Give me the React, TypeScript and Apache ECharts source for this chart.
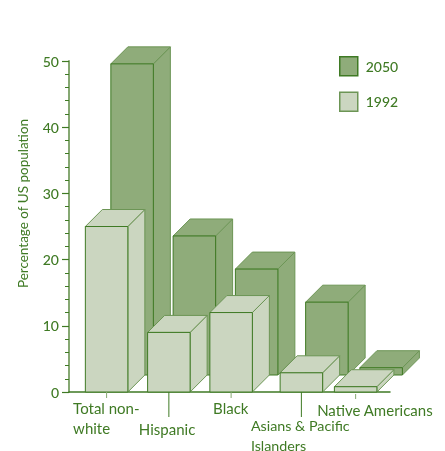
import React, { useEffect, useRef } from "react";
import * as echarts from "echarts";

const categories = ["Total non-\nwhite", "Hispanic", "Black", "Asians & Pacific\nIslanders", "Native Americans"];
const values2050 = [47, 21, 16, 11, 1.1];
const values1992 = [25, 9, 12, 2.9, 0.8];
const yTicks = { min: 0, max: 50, interval: 10 };

const FONT = "Lato";
const TEXT = "#3f7a24";
const AXIS_LIGHT = "#86a873";
const DARK = "#8fac7a";
const LIGHT = "#cbd6c0";
const EDGE = "#3f7a24";
const SOFT = "#6c9555";

const BAR_W = 42.5;
const DEPTH = 17;
const HALF = 21.25;
const SLOT_NUDGE = [0, 0, 0, 8, 0];
const TICK = [
  { from: 0, to: 6, c: AXIS_LIGHT },
  { from: 0, to: 25, c: TEXT },
  { from: 0, to: 6, c: AXIS_LIGHT },
  { from: 0, to: 25, c: TEXT },
  { from: 2, to: 7, c: AXIS_LIGHT },
];
const LABEL_POS = [
  { x: -33.5, y: 6, size: 15 },
  { x: -30, y: 27, size: 15 },
  { x: -18, y: 6, size: 15 },
  { x: -50.5, y: 23.5, size: 14.3 },
  { x: -38.5, y: 8, size: 15 },
];

const boxRenderer = (shiftX: number, shiftY: number, fill: string) => (params: any, api: any) => {
  const i = api.value(0);
  const v = api.value(1);
  const base = api.coord([i, 0]);
  const top = api.coord([i, v]);
  const x0 = base[0] + SLOT_NUDGE[i] + shiftX - HALF;
  const x1 = x0 + BAR_W;
  const yb = base[1] + shiftY;
  const yt = top[1] + shiftY;
  const d = DEPTH;
  return {
    type: "group",
    children: [
      {
        type: "polygon",
        shape: { points: [[x1, yt], [x1 + d, yt - d], [x1 + d, yb - d], [x1, yb]] },
        style: { fill, stroke: SOFT, lineWidth: 1 },
      },
      {
        type: "polygon",
        shape: { points: [[x0, yt], [x0 + d, yt - d], [x1 + d, yt - d], [x1, yt]] },
        style: { fill, stroke: SOFT, lineWidth: 1 },
      },
      {
        type: "rect",
        shape: { x: x0, y: yt, width: BAR_W, height: yb - yt },
        style: { fill, stroke: EDGE, lineWidth: 1 },
      },
    ],
  };
};

const labelRenderer = (params: any, api: any) => {
  const i = api.value(0);
  const p = api.coord([i, 0]);
  const x = p[0] + SLOT_NUDGE[i];
  const t = TICK[i];
  return {
    type: "group",
    children: [
      {
        type: "line",
        shape: { x1: x, y1: p[1] + t.from, x2: x, y2: p[1] + t.to },
        style: { stroke: t.c, lineWidth: 1 },
      },
      {
        type: "text",
        x: x + LABEL_POS[i].x,
        y: p[1] + LABEL_POS[i].y,
        style: {
          text: categories[i],
          fill: TEXT,
          font: `${LABEL_POS[i].size}px ${FONT}`,
          lineHeight: 20,
          textAlign: "left",
          textVerticalAlign: "top",
        },
      },
    ],
  };
};

export default function App() {
  const ref = useRef<HTMLDivElement>(null);
  useEffect(() => {
    const chart = echarts.init(ref.current!, undefined, { renderer: "svg" });
    chart.setOption({
      animation: false,
      grid: { left: 69, top: 61, width: 321, height: 331, containLabel: false },
      legend: {
        left: 339,
        top: 56,
        padding: 0,
        orient: "vertical",
        itemWidth: 18,
        itemHeight: 19,
        itemGap: 15,
        selectedMode: false,
        textStyle: { color: TEXT, fontFamily: FONT, fontSize: 14, fontWeight: 500, padding: [0, 0, 2, 3] },
        data: [
          { name: "2050", icon: "rect", itemStyle: { color: DARK, borderColor: EDGE, borderWidth: 1.5 } },
          { name: "1992", icon: "rect", itemStyle: { color: LIGHT, borderColor: SOFT, borderWidth: 1.5 } },
        ],
      },
      xAxis: {
        type: "value",
        min: -0.604,
        max: 4.552,
        axisLine: { show: true, onZero: false, lineStyle: { color: TEXT, width: 1.5 } },
        axisTick: { show: false },
        axisLabel: { show: false },
        splitLine: { show: false },
      },
      yAxis: {
        type: "value",
        min: yTicks.min,
        max: yTicks.max,
        interval: yTicks.interval,
        name: "Percentage of US population",
        nameLocation: "middle",
        nameGap: 39,
        nameRotate: 90,
        nameTextStyle: { color: TEXT, fontFamily: FONT, fontSize: 13.5, padding: [0, 0, 0, 46] },
        axisLine: { show: true, onZero: false, lineStyle: { color: AXIS_LIGHT, width: 2 } },
        axisTick: { show: true, length: 7, lineStyle: { color: TEXT, width: 1.2 } },
        minorTick: { show: true, splitNumber: 5, length: 4, lineStyle: { color: TEXT, width: 1 } },
        axisLabel: { color: TEXT, fontFamily: FONT, fontSize: 14, fontWeight: 500, margin: 10, padding: [0, 0, 2, 0] },
        splitLine: { show: false },
      },
      series: [
        {
          type: "custom",
          name: "2050",
          clip: false,
          encode: { x: 0, y: 1 },
          data: values2050.map((v, i) => [i, v]),
          itemStyle: { color: DARK },
          renderItem: boxRenderer(25.5, -DEPTH, DARK),
        },
        {
          type: "custom",
          name: "1992",
          clip: false,
          encode: { x: 0, y: 1 },
          data: values1992.map((v, i) => [i, v]),
          itemStyle: { color: LIGHT },
          renderItem: boxRenderer(0, 0, LIGHT),
        },
        {
          type: "custom",
          name: "labels",
          clip: false,
          encode: { x: 0 },
          data: categories.map((_, i) => [i]),
          renderItem: labelRenderer,
        },
      ],
    });
    return () => chart.dispose();
  }, []);
  return <div ref={ref} style={{ position: "fixed", left: 0, top: 0, width: 445, height: 451 }} />;
}
